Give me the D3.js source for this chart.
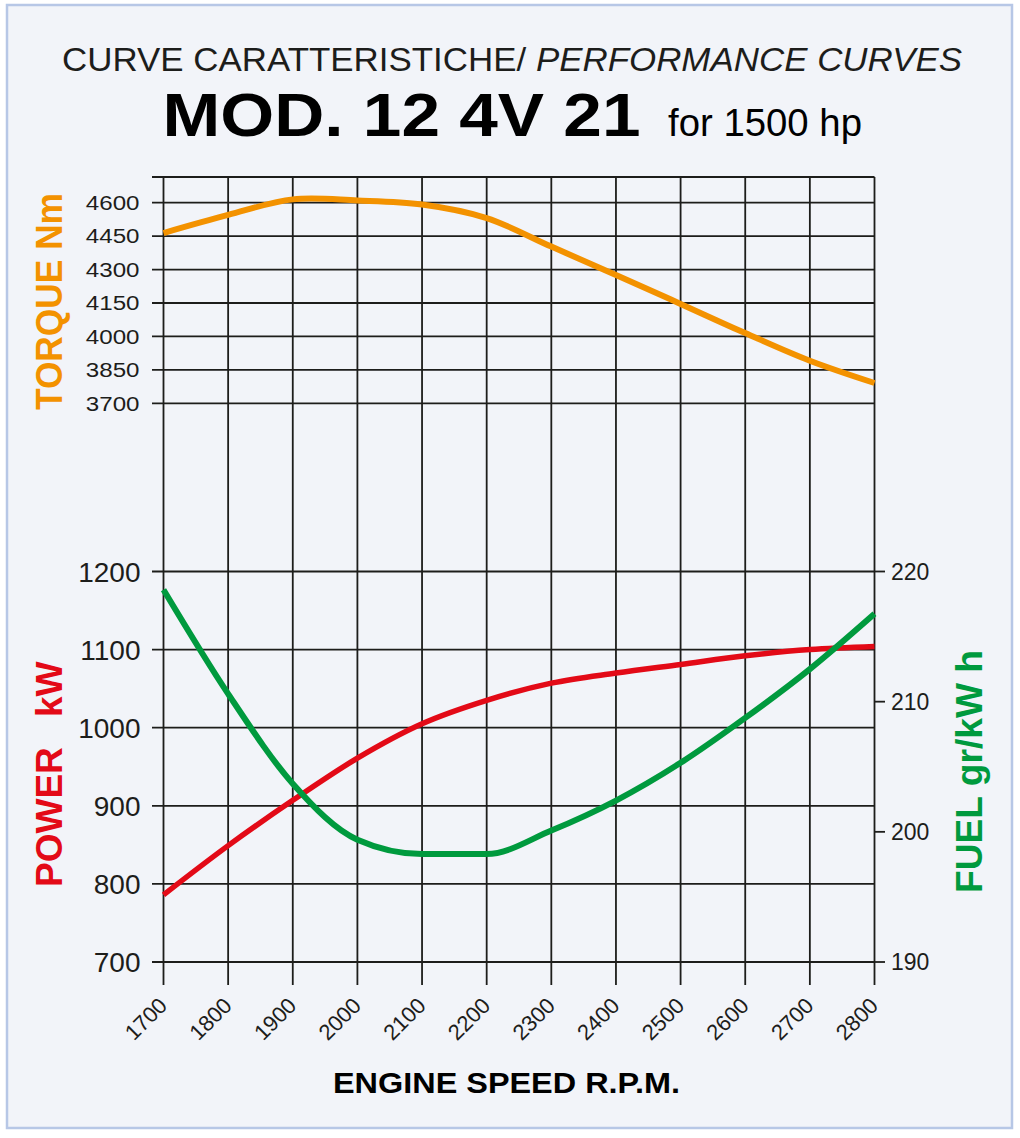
<!DOCTYPE html>
<html><head><meta charset="utf-8">
<script src="https://cdn.jsdelivr.net/npm/d3@7"></script>
<style>
html,body{margin:0;padding:0;background:#fff;}
svg{display:block;font-family:"Liberation Sans",Arial,Helvetica,sans-serif;}
</style></head>
<body>
<svg id="c" width="1020" height="1138"></svg>
<script>
// ---- data ----
const rpm = [1700,1800,1900,2000,2100,2200,2300,2400,2500,2600,2700,2800];
const torqueNm = [4464,4545,4615,4610,4592,4531,4403,4276,4146,4015,3891,3791];
const powerKW = [786,849,907,961,1005,1035,1057,1070,1081,1092,1100,1104];
const fuelGkWh = [218.6,210.6,203.7,199.4,198.3,198.3,200.1,202.4,205.3,208.75,212.5,216.75];
const torqueTicks = [3700,3850,4000,4150,4300,4450,4600];
const powerTicks = [700,800,900,1000,1100,1200];
const fuelTicks = [190,200,210,220];

const ORANGE="#f39200", RED="#e30a17", GREEN="#009a3e", INK="#1d1d1b";

const svg = d3.select("#c");
// frame
svg.append("rect").attr("x",7).attr("y",5).attr("width",1005).attr("height",1123)
  .attr("fill","#f2f4f9").attr("stroke","#b7c7e6").attr("stroke-width",2.5);

const x = d3.scaleLinear().domain([1700,2800]).range([163.5,874.5]);
const yT = d3.scaleLinear().domain([3700,4600]).range([403.3,202.7]);
const yP = d3.scaleLinear().domain([700,1200]).range([962,571.5]);
const yF = d3.scaleLinear().domain([190,220]).range([962,571.5]);

function fit(sel, w){ sel.attr("textLength",w).attr("lengthAdjust","spacingAndGlyphs"); return sel; }

// titles
const t1 = svg.append("text").attr("x",62).attr("y",70.7).attr("font-size",34).attr("fill",INK);
t1.append("tspan").text("CURVE CARATTERISTICHE/ ");
t1.append("tspan").attr("font-style","italic").text("PERFORMANCE CURVES");
fit(t1,900);
fit(svg.append("text").attr("x",162.5).attr("y",136).attr("font-size",61.5).attr("font-weight","bold")
  .attr("fill","#000").text("MOD. 12 4V 21"),478);
fit(svg.append("text").attr("x",668).attr("y",136).attr("font-size",38).attr("fill","#000")
  .text("for 1500 hp"),194);

// grid
const g = svg.append("g").attr("stroke",INK).attr("stroke-width",1.8).attr("fill","none");
g.selectAll("line.v").data(rpm).join("line")
  .attr("x1",d=>x(d)).attr("x2",d=>x(d)).attr("y1",177).attr("y2",985);
g.append("line").attr("x1",152).attr("x2",x(2800)).attr("y1",177).attr("y2",177);
g.selectAll("line.t").data(torqueTicks).join("line")
  .attr("x1",152).attr("x2",x(2800)).attr("y1",d=>yT(d)).attr("y2",d=>yT(d));
g.selectAll("line.p").data(powerTicks).join("line")
  .attr("x1",152).attr("x2",x(2800)).attr("y1",d=>yP(d)).attr("y2",d=>yP(d));
g.selectAll("line.f").data(fuelTicks).join("line")
  .attr("x1",x(2800)).attr("x2",885).attr("y1",d=>yF(d)).attr("y2",d=>yF(d));

// tick labels
svg.append("g").selectAll("text").data(torqueTicks).join("text")
  .attr("transform",d=>`translate(139.5,${yT(d)+7.3}) scale(1.15,1)`)
  .attr("text-anchor","end").attr("font-size",21).attr("fill",INK).text(d=>d);
svg.append("g").selectAll("text").data(powerTicks).join("text")
  .attr("x",140.5).attr("y",d=>yP(d)+10).attr("text-anchor","end")
  .attr("font-size",28).attr("fill",INK).text(d=>d);
svg.append("g").selectAll("text").data(fuelTicks).join("text")
  .attr("x",891).attr("y",d=>yF(d)+8.3).attr("font-size",23).attr("fill",INK).text(d=>d);
svg.append("g").selectAll("text").data(rpm).join("text")
  .attr("transform",d=>`translate(${x(d)+5},1007) rotate(-45)`)
  .attr("text-anchor","end").attr("font-size",22).attr("fill",INK).text(d=>d);

// axis titles
fit(svg.append("text").attr("transform","translate(62,410) rotate(-90)")
  .attr("font-size",36).attr("font-weight","bold").attr("fill",ORANGE).text("TORQUE Nm"),217);
svg.append("text").attr("transform","translate(62,887) rotate(-90)")
  .attr("font-size",37).attr("font-weight","bold").attr("fill",RED).text("POWER");
svg.append("text").attr("transform","translate(62,717) rotate(-90)")
  .attr("font-size",37).attr("font-weight","bold").attr("fill",RED).text("kW");
fit(svg.append("text").attr("transform","translate(982,893) rotate(-90)")
  .attr("font-size",37).attr("font-weight","bold").attr("fill",GREEN).text("FUEL gr/kW h"),243);
fit(svg.append("text").attr("x",333).attr("y",1093).attr("font-size",29.5).attr("font-weight","bold")
  .attr("fill","#000").text("ENGINE SPEED R.P.M."),347);

// curves
const lineT = d3.line().x((d,i)=>x(rpm[i])).y(d=>yT(d)).curve(d3.curveCatmullRom.alpha(0.5));
const lineP = d3.line().x((d,i)=>x(rpm[i])).y(d=>yP(d)).curve(d3.curveMonotoneX);
const lineF = d3.line().x((d,i)=>x(rpm[i])).y(d=>yF(d)).curve(d3.curveMonotoneX);
svg.append("path").attr("d",lineT(torqueNm)).attr("fill","none").attr("stroke",ORANGE).attr("stroke-width",6);
svg.append("path").attr("d",lineP(powerKW)).attr("fill","none").attr("stroke",RED).attr("stroke-width",5.5);
svg.append("path").attr("d",lineF(fuelGkWh)).attr("fill","none").attr("stroke",GREEN).attr("stroke-width",6);
</script>
</body></html>
